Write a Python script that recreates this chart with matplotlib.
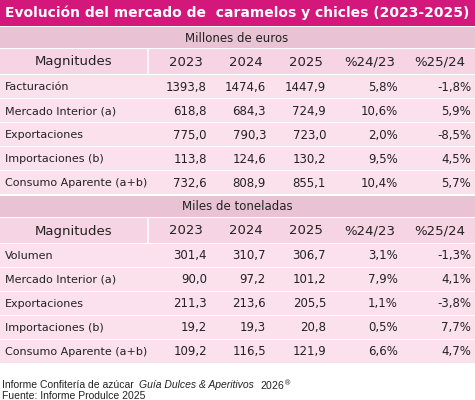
import matplotlib.pyplot as plt
from matplotlib.patches import Rectangle

# Table data
title = "Evolución del mercado de  caramelos y chicles (2023-2025)"
columns = ["Magnitudes", "2023", "2024", "2025", "%24/23", "%25/24"]

section_1 = "Millones de euros"
labels_1 = ["Facturación", "Mercado Interior (a)", "Exportaciones",
            "Importaciones (b)", "Consumo Aparente (a+b)"]
values_1 = [
    ["1393,8", "1474,6", "1447,9", "5,8%", "-1,8%"],
    ["618,8", "684,3", "724,9", "10,6%", "5,9%"],
    ["775,0", "790,3", "723,0", "2,0%", "-8,5%"],
    ["113,8", "124,6", "130,2", "9,5%", "4,5%"],
    ["732,6", "808,9", "855,1", "10,4%", "5,7%"],
]

section_2 = "Miles de toneladas"
labels_2 = ["Volumen", "Mercado Interior (a)", "Exportaciones",
            "Importaciones (b)", "Consumo Aparente (a+b)"]
values_2 = [
    ["301,4", "310,7", "306,7", "3,1%", "-1,3%"],
    ["90,0", "97,2", "101,2", "7,9%", "4,1%"],
    ["211,3", "213,6", "205,5", "1,1%", "-3,8%"],
    ["19,2", "19,3", "20,8", "0,5%", "7,7%"],
    ["109,2", "116,5", "121,9", "6,6%", "4,7%"],
]

plt.rcParams['font.family'] = ['DejaVu Sans']
magenta = "#d4177a"
band = "#e9c3d3"
head_bg = "#f7d4e3"
row_bg = "#fbe1ec"
txt = "#222222"

fig = plt.figure(figsize=(4.75, 4), dpi=100)
ax = fig.add_axes([0, 0, 1, 1])
ax.set_xlim(0, 475)
ax.set_ylim(400, 0)
ax.axis('off')

def rect(x, y, w, h, c):
    ax.add_patch(Rectangle((x, y), w, h, facecolor=c, edgecolor='none'))

rect(0, 0, 475, 26, magenta)
ax.text(237, 13, title, color='white', fontsize=10, fontweight='bold',
        ha='center', va='center')

num_right = [207, 266, 326, 398, 471]
head_center = [186, 246, 306, 370, 440]

def section(y0, name, labels, values):
    rect(0, y0, 475, 21, band)
    ax.text(237, y0 + 11, name, fontsize=8.5, color=txt, ha='center', va='center')
    y = y0 + 22
    rect(0, y, 475, 25, head_bg)
    ax.text(74, y + 13, columns[0], fontsize=9.5, color=txt, ha='center', va='center')
    for c, xc in zip(columns[1:], head_center):
        ax.text(xc, y + 13, c, fontsize=9.5, color=txt, ha='center', va='center')
    ax.plot([148, 148], [y, y + 25], color='white', lw=1.2)
    y += 26
    for lab, vals in zip(labels, values):
        rect(0, y, 475, 23, row_bg)
        ax.text(5, y + 12, lab, fontsize=8, color=txt, ha='left', va='center')
        for v, xr in zip(vals, num_right):
            ax.text(xr, y + 12, v, fontsize=8.5, color=txt, ha='right', va='center')
        y += 24
    return y

section(27, section_1, labels_1, values_1)
section(196, section_2, labels_2, values_2)

# footer, pieces chained one after another
fig.canvas.draw()
r = fig.canvas.get_renderer()
t = ax.text(2, 385, "Informe Confitería de azúcar ", fontsize=7.5,
            family='Liberation Sans', color=txt, va='center')
for piece, st in [("Guía Dulces & Aperitivos ", 'italic'), ("2026$^{®}$", 'normal')]:
    t = ax.annotate(piece, xy=(1, 0.5), xycoords=t, xytext=(2, 0), textcoords='offset points',
                    fontsize=7.5, family='Liberation Sans', style=st, color=txt, va='center')
ax.text(2, 396, "Fuente: Informe Produlce 2025", fontsize=7.5, family='Liberation Sans',
        color=txt, va='center')

fig.savefig("out.png", dpi=100)
